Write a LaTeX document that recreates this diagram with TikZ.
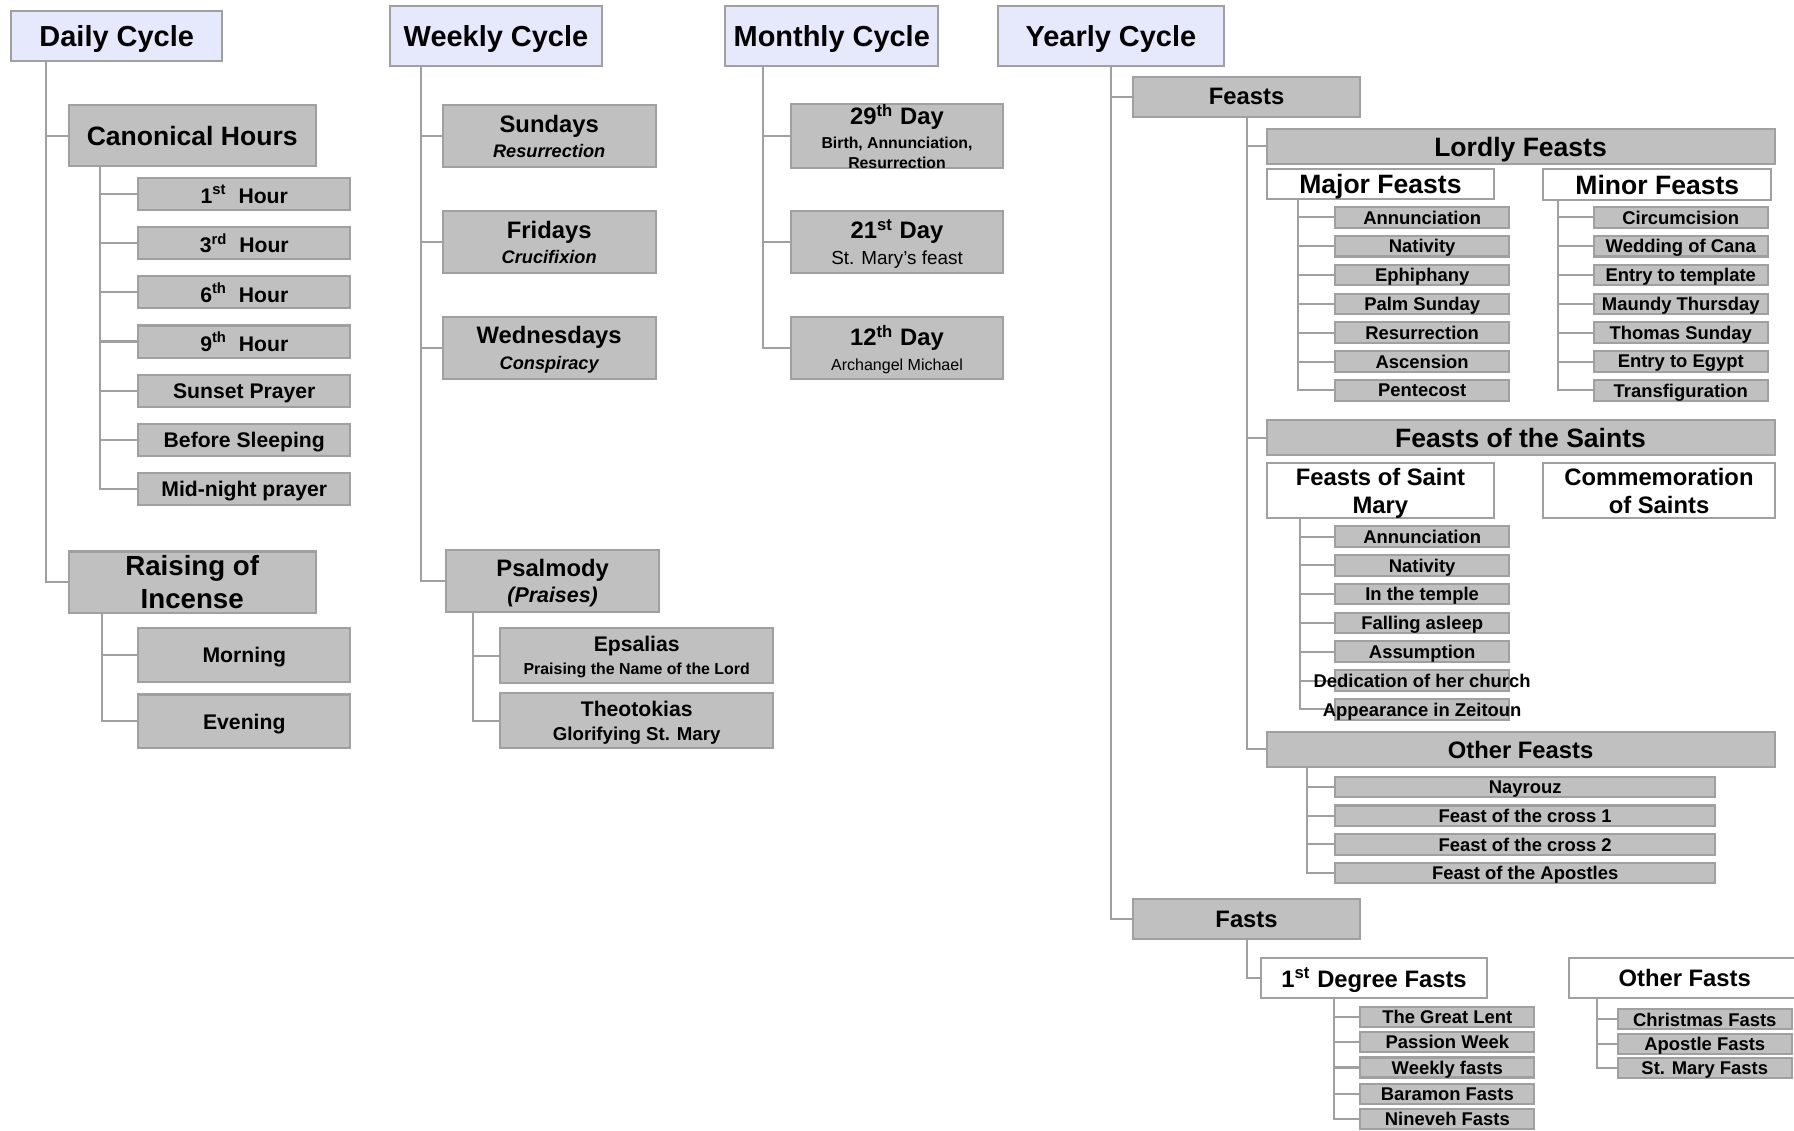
\documentclass[tikz,border=0pt]{standalone}
\usepackage{fontspec}
\setmainfont{Liberation Sans}
\definecolor{boxgray}{RGB}{192,192,192}
\definecolor{linegray}{RGB}{160,160,160}
\definecolor{titleblue}{RGB}{230,232,252}

\begin{document}
\begin{tikzpicture}[x=0.5pt, y=-0.5pt,
    link/.style={draw=linegray, line width=0.9pt},
    basebox/.style={draw=linegray, line width=0.9pt, inner sep=0pt, align=center, text depth=0pt},
    cyclebox/.style={basebox, fill=titleblue, minimum height=26.5pt, font=\fontsize{12.65}{14}\selectfont\bfseries},
    graybox/.style={basebox, fill=boxgray},
    whitebox/.style={basebox, fill=white},
    hourbox/.style={graybox, minimum width=92.5pt, minimum height=14pt, font=\fontsize{9.25}{11}\selectfont\bfseries},
    daybox/.style={graybox, minimum width=93pt, minimum height=27pt, font=\fontsize{10.4}{11}\selectfont\bfseries},
    itembox/.style={graybox, minimum width=76pt, minimum height=9pt, font=\fontsize{8.05}{9}\selectfont\bfseries},
    widebox/.style={graybox, minimum width=222pt, minimum height=15pt, font=\fontsize{11.6}{13}\selectfont\bfseries},
    midbox/.style={graybox, minimum width=99.5pt, minimum height=17.5pt, font=\fontsize{10.4}{12}\selectfont\bfseries}]
    \useasboundingbox (0,0) rectangle (1568,988);

    % daily cycle
    \node[cyclebox, minimum width=92pt, minimum height=21.5pt] (daily) at (102,31.5) {Daily Cycle};
    \node[graybox, minimum width=108pt, minimum height=26.5pt, font=\fontsize{11.6}{13}\selectfont\bfseries] (canon) at (168,118.5) {Canonical Hours};
    \node[hourbox] (h1) at (213.5,169.5) {1\textsuperscript{st}\ \ Hour};
    \node[hourbox] (h3) at (213.5,212.5) {3\textsuperscript{rd}\ \ Hour};
    \node[hourbox] (h6) at (213.5,255.5) {6\textsuperscript{th}\ \ Hour};
    \node[hourbox] (h9) at (213.5,298.5) {9\textsuperscript{th}\ \ Hour};
    \node[hourbox] (sunset) at (213.5,341.5) {Sunset Prayer};
    \node[hourbox] (sleep) at (213.5,384.5) {Before Sleeping};
    \node[hourbox] (midnight) at (213.5,427.5) {Mid-night prayer};
    \node[graybox, minimum width=108pt, minimum height=27pt, font=\fontsize{12.1}{14.5}\selectfont\bfseries] (raising) at (168,509) {Raising of\\Incense};
    \node[hourbox, minimum height=23.5pt] (morning) at (213.5,572.5) {Morning};
    \node[hourbox, minimum height=23.5pt] (evening) at (213.5,630.5) {Evening};
    \draw[link] ([xshift=15.5pt]daily.south west) |- (canon.west);
    \draw[link] ([xshift=15.5pt]daily.south west) |- (raising.west);
    \foreach \c in {h1,h3,h6,h9,sunset,sleep,midnight}
        \draw[link] ([xshift=14pt]canon.south west) |- (\c.west);
    \draw[link] ([xshift=15pt]raising.south west) |- (morning.west);
    \draw[link] ([xshift=15pt]raising.south west) |- (evening.west);

    % weekly cycle
    \node[cyclebox, minimum width=92.5pt] (weekly) at (433.5,31.5) {Weekly Cycle};
    \node[daybox] (sundays) at (480,119) {Sundays\\{\fontsize{7.95}{9}\selectfont\itshape Resurrection}};
    \node[daybox] (fridays) at (480,211.5) {Fridays\\{\fontsize{7.95}{9}\selectfont\itshape Crucifixion}};
    \node[daybox] (wednesdays) at (480,304) {Wednesdays\\{\fontsize{7.95}{9}\selectfont\itshape Conspiracy}};
    \node[daybox, font=\fontsize{10.4}{11.5}\selectfont\bfseries] (psalmody) at (483,508) {Psalmody\\{\fontsize{9.35}{10}\selectfont\itshape (Praises)}};
    \node[graybox, minimum width=119.5pt, minimum height=24pt, font=\fontsize{9.25}{10}\selectfont\bfseries] (epsalias) at (556.5,573) {Epsalias\\{\fontsize{6.95}{8}\selectfont Praising the Name of the Lord}};
    \node[graybox, minimum width=119.5pt, minimum height=24pt, font=\fontsize{9.25}{10.5}\selectfont\bfseries] (theotokias) at (556.5,630) {Theotokias\\{\fontsize{8.15}{9}\selectfont Glorifying St. Mary}};
    \foreach \c in {sundays,fridays,wednesdays,psalmody}
        \draw[link] ([xshift=14pt]weekly.south west) |- (\c.west);
    \draw[link] ([xshift=12pt]psalmody.south west) |- (epsalias.west);
    \draw[link] ([xshift=12pt]psalmody.south west) |- (theotokias.west);

    % monthly cycle
    \node[cyclebox, minimum width=93pt] (monthly) at (727,31.5) {Monthly Cycle};
    \node[daybox, font=\fontsize{10.4}{10.5}\selectfont\bfseries] (d29) at (784,119) {29\textsuperscript{th} Day\\{\fontsize{6.9}{8}\selectfont Birth, Annunciation,}\\[-2pt]{\fontsize{6.9}{8}\selectfont Resurrection}};
    \node[daybox] (d21) at (784,211.5) {21\textsuperscript{st} Day\\{\fontsize{8.25}{9}\selectfont\mdseries St. Mary’s feast}};
    \node[daybox] (d12) at (784,304) {12\textsuperscript{th} Day\\{\fontsize{7}{8}\selectfont\mdseries Archangel Michael}};
    \foreach \c in {d29,d21,d12}
        \draw[link] ([xshift=17pt]monthly.south west) |- (\c.west);

    % yearly cycle
    \node[cyclebox, minimum width=99pt] (yearly) at (971,31.5) {Yearly Cycle};
    \node[midbox] (feasts) at (1089.5,84.5) {Feasts};
    \node[widebox] (lordly) at (1329,128) {Lordly Feasts};
    \node[whitebox, minimum width=99.5pt, minimum height=13pt, font=\fontsize{11.6}{13}\selectfont\bfseries] (major) at (1206.5,161) {Major Feasts};
    \node[whitebox, minimum width=99.5pt, minimum height=13.5pt, font=\fontsize{11.6}{13}\selectfont\bfseries] (minor) at (1448.5,161.5) {Minor Feasts};
    \node[itembox] (ma1) at (1243,190) {Annunciation};
    \node[itembox] (ma2) at (1243,215.2) {Nativity};
    \node[itembox] (ma3) at (1243,240.4) {Ephiphany};
    \node[itembox] (ma4) at (1243,265.6) {Palm Sunday};
    \node[itembox] (ma5) at (1243,290.8) {Resurrection};
    \node[itembox] (ma6) at (1243,316) {Ascension};
    \node[itembox] (ma7) at (1243,341.2) {Pentecost};
    \node[itembox] (mi1) at (1469,190) {Circumcision};
    \node[itembox] (mi2) at (1469,215.2) {Wedding of Cana};
    \node[itembox] (mi3) at (1469,240.4) {Entry to template};
    \node[itembox] (mi4) at (1469,265.6) {Maundy Thursday};
    \node[itembox] (mi5) at (1469,290.8) {Thomas Sunday};
    \node[itembox] (mi6) at (1469,316) {Entry to Egypt};
    \node[itembox] (mi7) at (1469,341.2) {Transfiguration};
    \node[widebox, minimum height=15.5pt] (saints) at (1329,382.5) {Feasts of the Saints};
    \node[whitebox, minimum width=99.5pt, minimum height=24pt, font=\fontsize{10.4}{12.5}\selectfont\bfseries] (mary) at (1206.5,429) {Feasts of Saint\\Mary};
    \node[whitebox, minimum width=101pt, minimum height=24pt, font=\fontsize{10.4}{12.5}\selectfont\bfseries] (commem) at (1450,429) {Commemoration\\of Saints};
    \node[itembox] (sm1) at (1243,469) {Annunciation};
    \node[itembox] (sm2) at (1243,494.2) {Nativity};
    \node[itembox] (sm3) at (1243,519.3) {In the temple};
    \node[itembox] (sm4) at (1243,544.5) {Falling asleep};
    \node[itembox] (sm5) at (1243,569.6) {Assumption};
    \node[itembox] (sm6) at (1243,594.8) {};
    \node[itembox] (sm7) at (1243,620) {};
    \node[widebox, font=\fontsize{10.4}{12}\selectfont\bfseries] (otherfeasts) at (1329,655) {Other Feasts};
    \node[itembox, minimum width=166pt] (of1) at (1333,688) {Nayrouz};
    \node[itembox, minimum width=166pt] (of2) at (1333,713) {Feast of the cross 1};
    \node[itembox, minimum width=166pt] (of3) at (1333,738) {Feast of the cross 2};
    \node[itembox, minimum width=166pt] (of4) at (1333,763) {Feast of the Apostles};
    \node[midbox] (fasts) at (1089.5,803.5) {Fasts};
    \node[whitebox, minimum width=99pt, minimum height=17.5pt, font=\fontsize{10.4}{12}\selectfont\bfseries] (deg1) at (1201,854.5) {1\textsuperscript{st} Degree Fasts};
    \node[whitebox, minimum width=101.5pt, minimum height=17.5pt, font=\fontsize{10.4}{12}\selectfont\bfseries] (otherfasts) at (1472.5,854.5) {Other Fasts};
    \node[itembox, minimum height=8.75pt] (fa1) at (1265,888.5) {The Great Lent};
    \node[itembox, minimum height=8.75pt] (fa2) at (1265,910.5) {Passion Week};
    \node[itembox, minimum height=8.75pt] (fa3) at (1265,933) {Weekly fasts};
    \node[itembox, minimum height=8.75pt] (fa4) at (1265,956) {Baramon Fasts};
    \node[itembox, minimum height=8.75pt] (fa5) at (1265,978) {Nineveh Fasts};
    \node[itembox, minimum height=8.75pt] (fb1) at (1490,891) {Christmas Fasts};
    \node[itembox, minimum height=8.75pt] (fb2) at (1490,912.6) {Apostle Fasts};
    \node[itembox, minimum height=8.75pt] (fb3) at (1490,933.6) {St. Mary Fasts};
    \draw[link] (yearly.south) |- (feasts.west);
    \draw[link] (yearly.south) |- (fasts.west);
    \foreach \c in {lordly,saints,otherfeasts}
        \draw[link] (feasts.south) |- (\c.west);
    \foreach \c in {ma1,ma2,ma3,ma4,ma5,ma6,ma7}
        \draw[link] ([xshift=14pt]major.south west) |- (\c.west);
    \foreach \c in {mi1,mi2,mi3,mi4,mi5,mi6,mi7}
        \draw[link] ([xshift=7pt]minor.south west) |- (\c.west);
    \foreach \c in {sm1,sm2,sm3,sm4,sm5,sm6,sm7}
        \draw[link] ([xshift=15pt]mary.south west) |- (\c.west);
    \foreach \c in {of1,of2,of3,of4}
        \draw[link] ([xshift=18pt]otherfeasts.south west) |- (\c.west);
    \draw[link] (fasts.south) |- (deg1.west);
    \foreach \c in {fa1,fa2,fa3,fa4,fa5}
        \draw[link] ([xshift=32.5pt]deg1.south west) |- (\c.west);
    \foreach \c in {fb1,fb2,fb3}
        \draw[link] ([xshift=13pt]otherfasts.south west) |- (\c.west);
    % texts wider than their boxes sit on top of the links
    \node[font=\fontsize{8.05}{9}\selectfont\bfseries, text depth=0pt, inner sep=0pt] at (sm6) {Dedication of her church};
    \node[font=\fontsize{8.05}{9}\selectfont\bfseries, text depth=0pt, inner sep=0pt] at (sm7) {Appearance in Zeitoun};
\end{tikzpicture}
\end{document}
